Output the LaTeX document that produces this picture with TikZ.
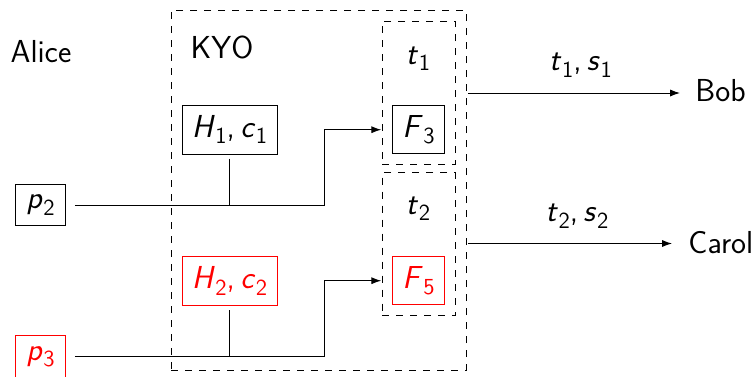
\documentclass[tikz,border=0pt]{standalone}
\usetikzlibrary{arrows.meta}
\newcommand{\mv}[2]{\textsl{#1}\kern0.3pt\raisebox{-0.5ex}{\fontsize{11.5}{11.5}\selectfont #2}}
\begin{document}
\begin{tikzpicture}[x=0.5pt,y=-0.5pt,
  every node/.style={font=\sffamily\fontsize{15.9}{18}\selectfont},
  box/.style={draw,line width=0.5pt,inner sep=0pt,minimum width=47.5pt,minimum height=24.5pt},
  pbox/.style={draw,line width=0.5pt,inner sep=0pt,minimum width=24.75pt,minimum height=20.75pt},
  fbox/.style={draw,line width=0.5pt,inner sep=0pt,minimum width=25.75pt,minimum height=24pt},
  dbox/.style={draw,dash pattern=on 3.5pt off 3.5pt,line width=0.5pt,inner sep=0pt},
  red/.style={draw=red,text=red},
  conn/.style={line width=0.5pt},
  arr/.style={line width=0.5pt,-{Latex[length=5pt,width=3.6pt]}}]
\useasboundingbox (0,0) rectangle (756,376);
% dashed containers
\node[dbox,minimum width=147.5pt,minimum height=180pt] (kyo) at (318.5,190) {};
\node[dbox,minimum width=36.5pt,minimum height=71.5pt] (tb1) at (418.5,92.7) {};
\node[dbox,minimum width=36.5pt,minimum height=71.5pt] (tb2) at (418.5,244) {};
% labels
\node[anchor=base] (alice) at (41,62) {Alice};
\node[anchor=base] (kyot) at (222,58) {KYO};
\node[anchor=base] (t1) at (418,64) {\mv{t}{1}};
\node[anchor=base] (t2) at (418,214) {\mv{t}{2}};
\node[anchor=base west,inner sep=0pt] (bob) at (695,101.5) {Bob};
\node[anchor=base west,inner sep=0pt] (carol) at (688,253) {Carol};
% boxes
\node[box] (h1) at (229.5,129.5) {\mv{H}{1},\,\mv{c}{1}};
\node[box,red] (h2) at (229.5,281) {\mv{H}{2},\,\mv{c}{2}};
\node[pbox] (p2) at (40.5,205) {\mv{p}{2}};
\node[pbox,red] (p3) at (40.5,356.7) {\mv{p}{3}};
\node[fbox] (f3) at (418.5,129.7) {\mv{F}{3}};
\node[fbox,red] (f5) at (418.5,280.7) {\mv{F}{5}};
% bend coordinates
\coordinate (b1) at (324,205);
\coordinate (b2) at (324,356);
\coordinate (e1) at (466,93);
\coordinate (e2) at (466,243.5);
% connectors
\draw[arr,shorten <=4.5pt,shorten >=5.5pt] (p2.east) -- (b1) |- (f3.west);
\draw[arr,shorten <=4.5pt,shorten >=5.5pt] (p3.east |- b2) -- (b2) |- (f5.west);
\draw[conn,shorten <=2pt] (h1.south) -- (h1.south |- b1);
\draw[conn,shorten <=2pt] (h2.south) -- (h2.south |- b2);
\draw[arr,shorten <=1pt,shorten >=7.5pt] (e1) -- node[above=4pt] (l1) {\mv{t}{1},\,\mv{s}{1}} (e1 -| bob.west);
\draw[arr,shorten <=1pt,shorten >=8pt] (e2) -- node[above=4pt] (l2) {\mv{t}{2},\,\mv{s}{2}} (e2 -| carol.west);
\end{tikzpicture}
\end{document}
